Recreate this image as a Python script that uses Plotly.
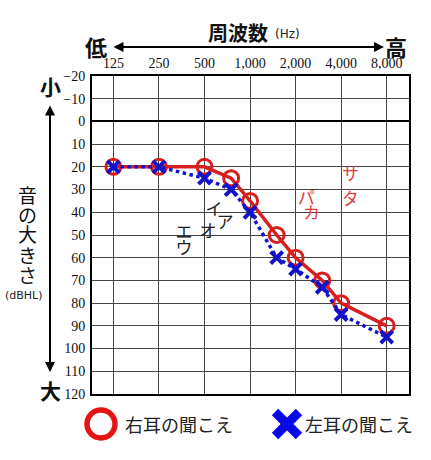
import plotly.graph_objects as go

# audiogram data (frequency in Hz, hearing level in dBHL)
freqs = [125, 250, 500, 750, 1000, 1500, 2000, 3000, 4000, 8000]
right_ear = [20, 20, 20, 25, 35, 50, 60, 70, 80, 90]
left_ear = [20, 20, 25, 30, 40, 60, 65, 73, 85, 95]

freq_ticks = [125, 250, 500, 1000, 2000, 4000, 8000]
freq_labels = ['125', '250', '500', '1,000', '2,000', '4,000', '8,000']
db_ticks = list(range(-20, 121, 10))

# speech sounds placed on the chart
speech_text = ['サ', 'タ', 'パ', 'カ', 'イ', 'ア', 'オ', 'エ', 'ウ']
speech_freq = [4620, 4590, 2350, 2550, 578, 683, 527, 366, 366]
speech_db = [24, 35, 34.5, 41, 39.5, 45, 49, 49.5, 56.5]
speech_color = ['#e0393e'] * 4 + ['#222222'] * 5

W, H = 431, 460
RED = '#d91e1e'
BLUE = '#1212cc'
JP = 'Noto Sans CJK JP'


def px(x):
    return x / W


def py(y):
    return 1 - y / H


fig = go.Figure()

fig.add_trace(go.Scatter(
    x=freqs, y=right_ear, mode='lines+markers',
    line=dict(color=RED, width=3.5),
    marker=dict(symbol='circle-open', size=15, color=RED, line=dict(width=3)),
    hoverinfo='skip'))

fig.add_trace(go.Scatter(
    x=freqs, y=left_ear, mode='lines+markers',
    line=dict(color=BLUE, width=3.5, dash='dot'),
    marker=dict(symbol='x-thin-open', size=12, color=BLUE, line=dict(width=4, color=BLUE)),
    hoverinfo='skip'))

fig.add_trace(go.Scatter(
    x=speech_freq, y=speech_db, mode='text', text=speech_text,
    textfont=dict(family=JP, size=17, color=speech_color),
    hoverinfo='skip'))

fig.update_xaxes(
    type='log', range=[1.9554, 4.0506], side='top',
    domain=[px(92), px(409)],
    tickvals=freq_ticks, ticktext=freq_labels, ticks='',
    tickfont=dict(family='Liberation Serif', size=14, color='#111'),
    ticklabelstandoff=0,
    showgrid=True, gridcolor='#444', gridwidth=1,
    showline=True, mirror=True, linecolor='black', linewidth=2,
    zeroline=False)

fig.update_yaxes(
    range=[120, -20], domain=[py(394), py(76)],
    tickvals=db_ticks, ticks='',
    tickfont=dict(family='Liberation Serif', size=14, color='#111'),
    ticklabelstandoff=2,
    showgrid=True, gridcolor='#444', gridwidth=1,
    showline=True, mirror=True, linecolor='black', linewidth=2,
    zeroline=True, zerolinecolor='black', zerolinewidth=2)

ann = []


def text(x, y, s, size, family=JP, color='#111', **kw):
    ann.append(dict(x=px(x), y=py(y), xref='paper', yref='paper', text=s,
                    showarrow=False, font=dict(family=family, size=size, color=color),
                    xanchor=kw.pop('xanchor', 'center'), yanchor='middle', **kw))


# frequency header
text(238, 32, '<b>周波数</b>', 20)
text(287, 34, '(Hz)', 12, family='DejaVu Sans', color='#222')
text(96, 46, '<b>低</b>', 22)
text(396, 46, '<b>高</b>', 22)
ann.append(dict(x=px(384), y=py(47), xref='paper', yref='paper', text='',
                showarrow=True, ax=-272, ay=0, arrowhead=2, arrowside='end+start',
                arrowsize=1, arrowwidth=2, arrowcolor='black'))

# loudness side label
text(50, 86, '<b>小</b>', 21)
text(50, 390, '<b>大</b>', 21)
ann.append(dict(x=px(50), y=py(372), xref='paper', yref='paper', text='',
                showarrow=True, ax=0, ay=-268, arrowhead=2, arrowside='end+start',
                arrowsize=1, arrowwidth=2, arrowcolor='black'))
for i, ch in enumerate('音の大きさ'):
    text(27, 194 + i * 20, ch, 19)
text(24, 295, '(dBHL)', 11, family='DejaVu Sans', color='#222')

# legend
text(123, 424, '右耳の聞こえ', 18, color='#222', xanchor='left')
text(303, 424, '左耳の聞こえ', 18, color='#222', xanchor='left')

shapes = [
    dict(type='circle', xref='paper', yref='paper',
         x0=px(87), x1=px(115), y0=py(410), y1=py(438),
         line=dict(color='#e31414', width=5.5)),
    dict(type='line', xref='paper', yref='paper',
         x0=px(275), x1=px(299), y0=py(412), y1=py(436),
         line=dict(color='#0a0ae6', width=9)),
    dict(type='line', xref='paper', yref='paper',
         x0=px(275), x1=px(299), y0=py(436), y1=py(412),
         line=dict(color='#0a0ae6', width=9)),
]

fig.update_layout(
    width=W, height=H,
    margin=dict(l=0, r=0, t=0, b=0, autoexpand=False),
    plot_bgcolor='white', paper_bgcolor='white',
    showlegend=False, hovermode=False,
    annotations=ann, shapes=shapes)

fig.write_html('out.html', config={'displayModeBar': False},
               post_script="document.body.style.margin='0';")
